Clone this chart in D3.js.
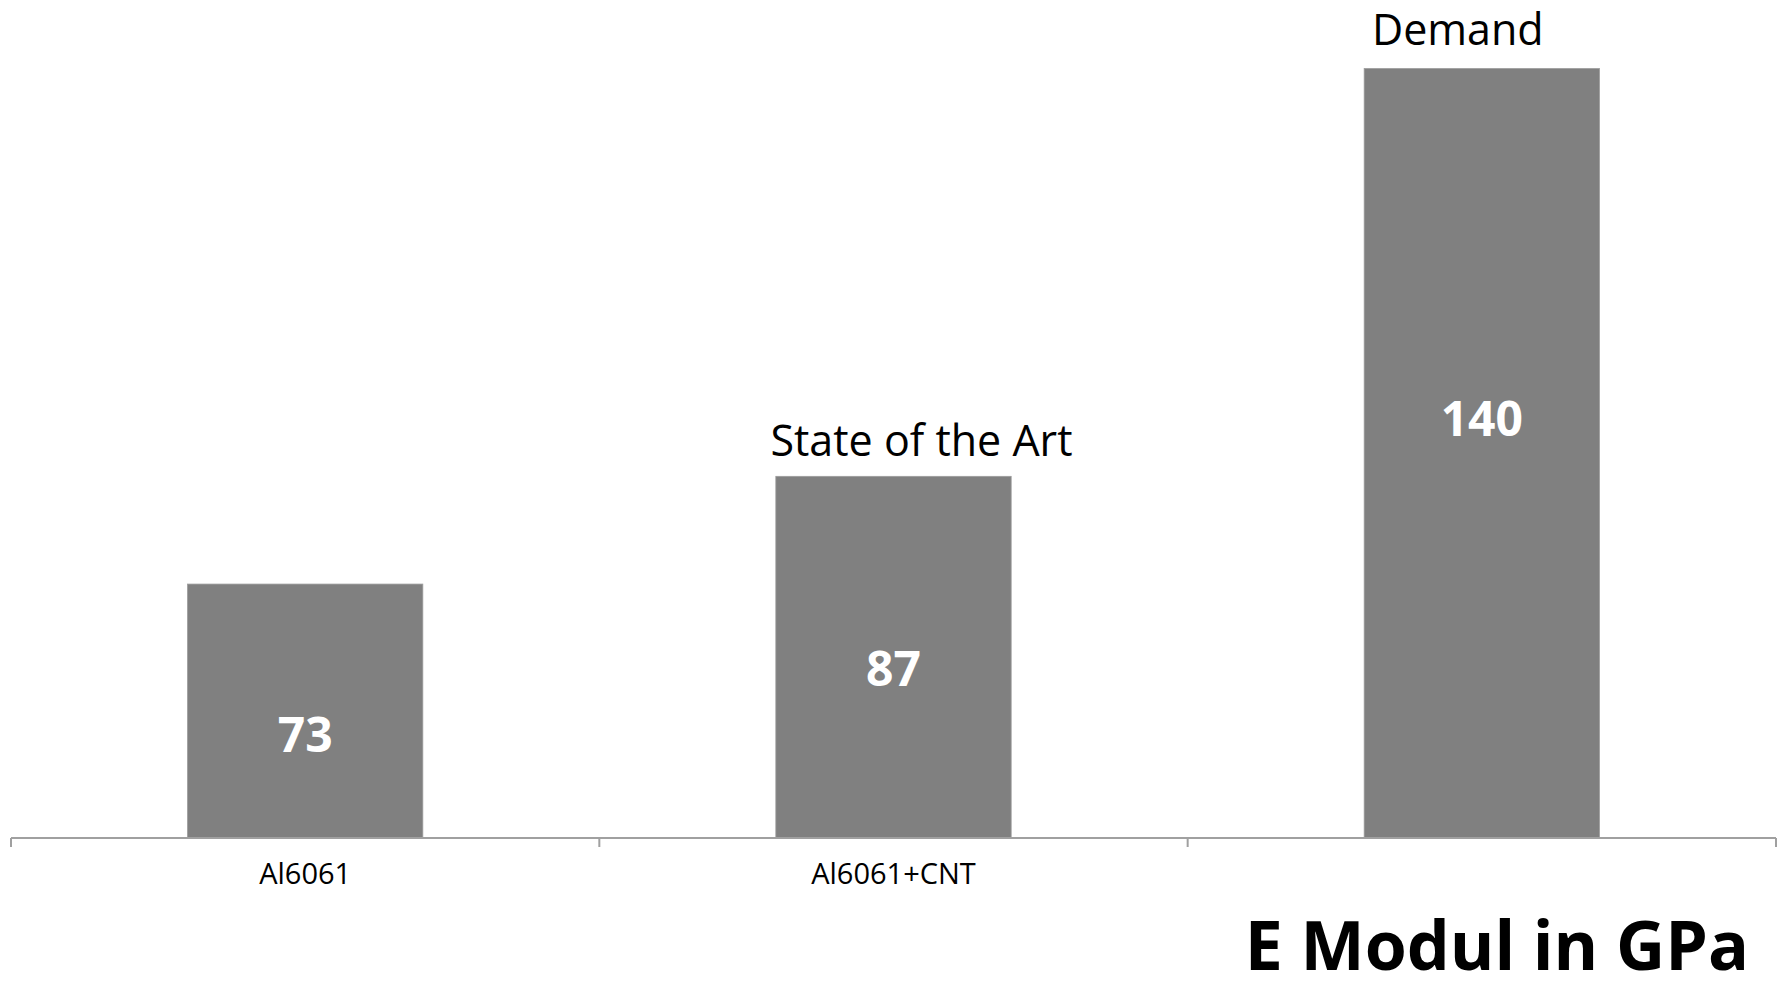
<!DOCTYPE html>
<html>
<head>
<meta charset="utf-8">
<script src="https://cdn.jsdelivr.net/npm/d3@7"></script>
<style>
  html, body { margin: 0; padding: 0; background: #fff; }
  svg { display: block; font-family: "Open Sans", "Noto Sans", sans-serif; }
</style>
</head>
<body>
<svg id="chart" width="1787" height="992"></svg>
<script>
// Young's modulus (GPa) of the materials compared
const categories = ["Al6061", "Al6061+CNT", ""];
const values = [73, 87, 140];
const annotations = ["", "State of the Art", "Demand"];
const axisTitle = "E Modul in GPa";

// value axis starts at 40 GPa
const yDomain = [40, 140];

const width = 1787, height = 992;
const plot = { left: 11, right: 1776, top: 68.5, bottom: 838 };

const svg = d3.select("#chart");

const x = d3.scaleBand()
  .domain(d3.range(categories.length))
  .range([plot.left, plot.right])
  .paddingInner(0.6)
  .paddingOuter(0.3);

const y = d3.scaleLinear()
  .domain(yDomain)
  .range([plot.bottom, plot.top]);

// bars
svg.append("g")
  .selectAll("rect")
  .data(values)
  .join("rect")
  .attr("x", (d, i) => x(i))
  .attr("y", d => y(d))
  .attr("width", x.bandwidth())
  .attr("height", d => y(yDomain[0]) - y(d))
  .attr("fill", "#808080")
  .attr("stroke", "#9c9c9c")
  .attr("stroke-width", 0.8);

// value labels inside the bars
svg.append("g")
  .selectAll("text")
  .data(values)
  .join("text")
  .attr("x", (d, i) => x(i) + x.bandwidth() / 2)
  .attr("y", d => {
    const top = y(d), h = y(yDomain[0]) - top;
    return top + 0.388 * h + 52;
  })
  .attr("dy", "0.36em")
  .attr("text-anchor", "middle")
  .attr("fill", "#fff")
  .attr("font-weight", 700)
  .attr("font-size", 48)
  .text(d => d);

// annotation labels above bars
const annotOffset = [[0, 0], [28, -20], [-24, -24]];
svg.append("g")
  .selectAll("text")
  .data(annotations.map((t, i) => ({ t, i })).filter(d => d.t))
  .join("text")
  .attr("x", d => x(d.i) + x.bandwidth() / 2 + annotOffset[d.i][0])
  .attr("y", d => y(values[d.i]) + annotOffset[d.i][1])
  .attr("text-anchor", "middle")
  .attr("fill", "#000")
  .attr("font-size", 43)
  .text(d => d.t);

// category axis: baseline with boundary ticks
const axisG = svg.append("g").attr("transform", `translate(0,${plot.bottom})`);
const step = x.step();
const bounds = d3.range(categories.length + 1).map(i => plot.left + i * step);
axisG.append("line")
  .attr("x1", plot.left).attr("x2", plot.right)
  .attr("y1", 0).attr("y2", 0)
  .attr("stroke", "#a0a0a0").attr("stroke-width", 2);
axisG.selectAll("line.tick")
  .data(bounds)
  .join("line")
  .attr("class", "tick")
  .attr("x1", d => d).attr("x2", d => d)
  .attr("y1", 0).attr("y2", 9)
  .attr("stroke", "#a0a0a0").attr("stroke-width", 2);

const labelAxis = d3.axisBottom(x)
  .tickSize(0)
  .tickPadding(0)
  .tickFormat(i => categories[i]);
const labels = svg.append("g")
  .attr("transform", `translate(0,${plot.bottom})`)
  .call(labelAxis);
labels.select(".domain").remove();
labels.selectAll("text")
  .attr("y", 46)
  .attr("dy", 0)
  .attr("font-size", 29)
  .attr("font-family", "Open Sans, Noto Sans, sans-serif")
  .attr("fill", "#000");

// unit title, bottom right
svg.append("text")
  .attr("x", 1749)
  .attr("y", 970)
  .attr("text-anchor", "end")
  .attr("font-size", 68)
  .attr("font-weight", 700)
  .attr("fill", "#000")
  .text(axisTitle);
</script>
</body>
</html>
